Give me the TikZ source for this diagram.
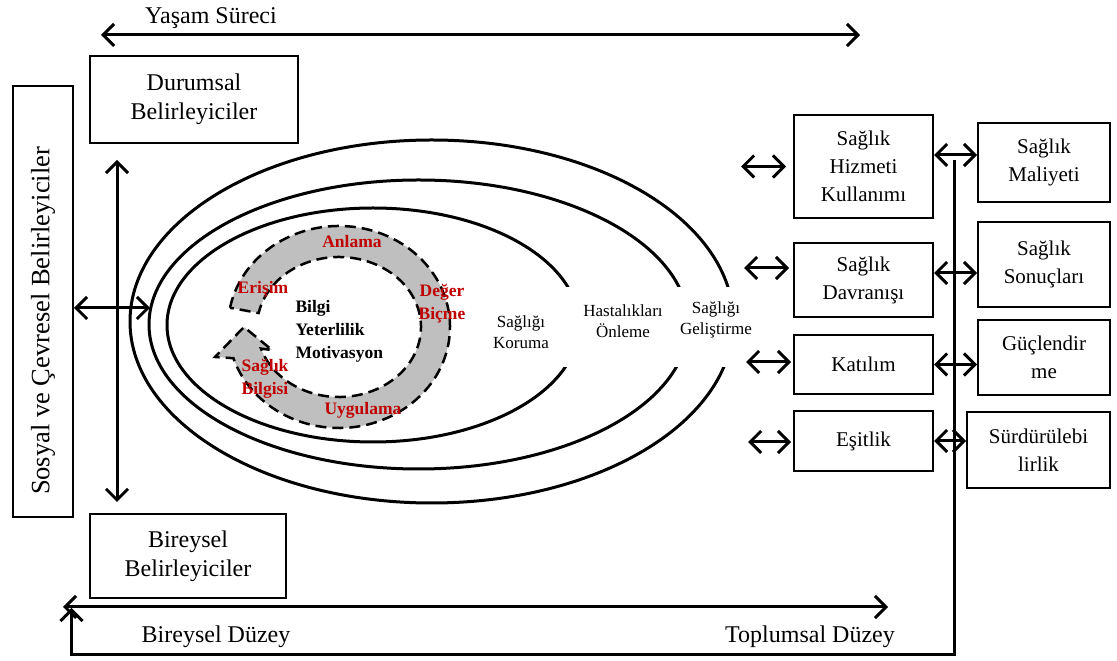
\documentclass[tikz,border=0pt]{standalone}
\usepackage{fontspec}
\setmainfont{Liberation Serif}
\usepackage{tikz}
\usetikzlibrary{arrows.meta, positioning}
\definecolor{RingGray}{RGB}{191,191,191}
\definecolor{LabelRed}{RGB}{192,0,0}
\tikzset{%
  block/.style={%
    rectangle,%
    draw=black,%
    line width=2pt,%
    align=center,%
    font={\fontsize{24}{29}\selectfont},%
  },
  side_block/.style={%
    rectangle,%
    draw=black,%
    line width=2pt,%
    minimum width=139pt,%
    align=center,%
    font={\fontsize{21}{28}\selectfont},%
  },
  outcome_block/.style={%
    side_block,%
    minimum width=132pt,%
  },
  zone_path/.style={%
    draw=black,%
    line width=3pt,%
  },
  ring_path/.style={%
    draw=black,%
    fill=RingGray,%
    line width=2.5pt,%
    dash pattern=on 11pt off 6pt,%
    line join=miter,%
  },
  ring_label/.style={%
    color=LabelRed,%
    align=center,%
    font={\fontsize{17.5}{23}\selectfont\bfseries},%
  },
  zone_label/.style={%
    align=center,%
    font={\fontsize{17}{21.5}\selectfont},%
  },
  annotate/.style={%
    font={\fontsize{24}{29}\selectfont},%
  },
  arrow/.style={-{Straight Barb[length=11pt, width=22pt]}, line width=3pt},
  double_arrow/.style={{Straight Barb[length=11pt, width=22pt]}-{Straight Barb[length=11pt, width=22pt]}, line width=3pt},
}
\begin{document}
\begin{tikzpicture}[x=1pt, y=1pt]
    \useasboundingbox (0,0) rectangle (1117,661);

    % nested levels
    \draw [zone_path] (431.7,339.5) ellipse [x radius=301.7, y radius=181.5];
    \draw [zone_path] (418.6,336.5) ellipse [x radius=269.6, y radius=144.5];
    \draw [zone_path] (373,336) ellipse [x radius=206, y radius=117];
    \fill [white] (485,294) rectangle (740,374);

    \node [zone_label] (Koruma) at (521,329) {Sağlığı\\Koruma};
    \node [zone_label] (Onleme) at (623,340) {Hastalıkları\\Önleme};
    \node [zone_label] (Gelistirme) at (716,341) {Sağlığı\\Geliştirme};

    % health literacy cycle
    \begin{scope}[shift={(339,334)}]
      \draw [ring_path]
        (169:111 and 101)
        arc [start angle=169, end angle=-162, x radius=111, y radius=101]
        -- (-124,-30) -- (-95,0) -- (-67,-23)
        -- (-162:82 and 70)
        arc [start angle=-162, end angle=168.5, x radius=82, y radius=70]
        -- cycle;
    \end{scope}

    \node [ring_label] (Anlama) at (352,419) {Anlama};
    \node [ring_label] (Erisim) at (263,372) {Erişim};
    \node [ring_label] (Deger) at (442,357) {Değer\\Biçme};
    \node [ring_label] (Uygulama) at (363,251) {Uygulama};
    \node [ring_label] (Bilgisi) at (265,282) {Sağlık\\Bilgisi};
    \node [ring_label, color=black, align=left, anchor=west] (Yeterlilik) at (292,330)
      {Bilgi\\Yeterlilik\\Motivasyon};

    % determinants
    \node [block, minimum width=208pt, minimum height=87pt] (Durumsal) at (194,561.5)
      {Durumsal\\Belirleyiciler};
    \node [block, minimum width=196pt, minimum height=84pt] (Bireysel) at (188,105)
      {Bireysel\\Belirleyiciler};
    \node [block, rotate=90, inner sep=0pt, minimum width=431pt, minimum height=60pt,
      text width=387pt, align=flush left,
      font={\fontsize{26.5}{30}\selectfont}] (Sosyal) at (43,359.5)
      {Sosyal ve Çevresel Belirleyiciler};

    \coordinate (DetTop) at (117,501);
    \coordinate (DetBottom) at (117,159);
    \coordinate (EllipseLeft) at (150,353);
    \draw [double_arrow] (DetTop) -- (DetBottom);
    \draw [double_arrow] (EllipseLeft -| Sosyal.south) -- (EllipseLeft);

    % life course
    \coordinate (LifeStart) at (101,626);
    \coordinate (LifeEnd) at (860,626);
    \draw [double_arrow] (LifeStart) -- (LifeEnd);
    \node [annotate] (Yasam) at (211,643) {Yaşam Süreci};

    % outcomes
    \node [side_block, minimum height=103pt] (Hizmet) at (863.5,494.5)
      {Sağlık\\Hizmeti\\Kullanımı};
    \node [side_block, minimum height=74pt, below=23 of Hizmet] (Davranis)
      {Sağlık\\Davranışı};
    \node [side_block, minimum height=59pt, below=16 of Davranis] (Katilim) {Katılım};
    \node [side_block, minimum height=60pt, below=15 of Katilim] (Esitlik) {Eşitlik};

    \node [outcome_block, minimum height=79pt] (Maliyet) at (1044,498.5)
      {Sağlık\\Maliyeti};
    \node [outcome_block, minimum height=85pt, below=18 of Maliyet] (Sonuclar)
      {Sağlık\\Sonuçları};
    \node [outcome_block, minimum height=75pt, below=11 of Sonuclar] (Guclendirme)
      {Güçlendir\\me};
    \node [outcome_block, minimum height=76pt, minimum width=143pt,
      below=15 of Guclendirme, xshift=-5.5pt] (Surdurulebilirlik)
      {Sürdürülebi\\lirlik};

    \coordinate (HizmetIn) at ([xshift=-52pt]Hizmet.west);
    \coordinate (DavranisIn) at ([xshift=-49pt, yshift=12pt]Davranis.west);
    \coordinate (KatilimIn) at ([xshift=-47pt, yshift=2.5pt]Katilim.west);
    \coordinate (EsitlikIn) at ([xshift=-45pt, yshift=-1pt]Esitlik.west);
    \draw [double_arrow] (HizmetIn) -- ([xshift=-7pt]Hizmet.west);
    \draw [double_arrow] (DavranisIn) -- ([xshift=-4pt, yshift=12pt]Davranis.west);
    \draw [double_arrow] (KatilimIn) -- ([xshift=-2pt, yshift=2.5pt]Katilim.west);
    \draw [double_arrow] (EsitlikIn) -- ([xshift=-2pt, yshift=-1pt]Esitlik.west);

    \coordinate (HizmetOut) at ([yshift=11.5pt]Hizmet.east);
    \coordinate (DavranisOut) at ([yshift=7pt]Davranis.east);
    \coordinate (KatilimOut) at (Katilim.east);
    \coordinate (EsitlikOut) at (Esitlik.east);
    \draw [double_arrow] (HizmetOut) -- (HizmetOut -| Maliyet.west);
    \draw [double_arrow] (DavranisOut) -- (DavranisOut -| Sonuclar.west);
    \draw [double_arrow] (KatilimOut) -- (KatilimOut -| Guclendirme.west);
    \draw [double_arrow] (EsitlikOut) -- (EsitlikOut -| Surdurulebilirlik.west);

    % individual to community level
    \coordinate (LevelStart) at (63,54);
    \coordinate (LevelEnd) at (888,54);
    \draw [double_arrow] (LevelStart) -- (LevelEnd);
    \node [annotate] (BireyselDuzey) at (216,24) {Bireysel Düzey};
    \node [annotate] (ToplumsalDuzey) at (810,24) {Toplumsal Düzey};

    \coordinate (FeedTop) at (954,501);
    \coordinate (FeedBottom) at (71.5,6);
    \coordinate (FeedEnd) at (71.5,53);
    \draw [arrow] (FeedTop) |- (FeedBottom) -- (FeedEnd);
  \end{tikzpicture}
\end{document}
